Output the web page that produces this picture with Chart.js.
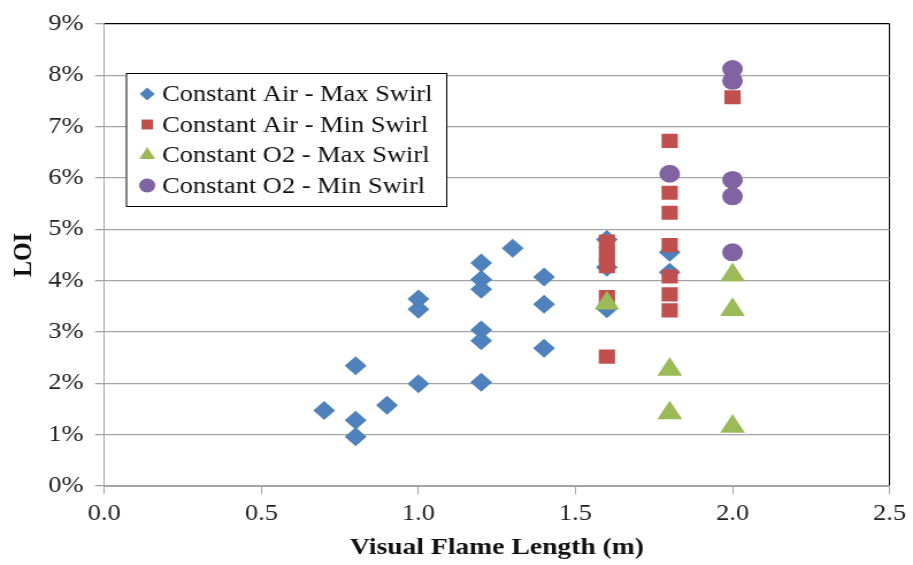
<!DOCTYPE html>
<html>
<head>
<meta charset="utf-8">
<script src="https://cdn.jsdelivr.net/npm/chart.js@4.4.1/dist/chart.umd.min.js"></script>
<style>
    html, body { margin: 0; padding: 0; background: #fff; }
    canvas { display: block; }
</style>
</head>
<body>
<!-- canvas is drawn narrower and stretched a little wider on screen -->
<canvas id="grafico-loi" width="794" height="565" style="width:913px;height:565px"></canvas>
<script>
const series = ['Constant Air - Max Swirl', 'Constant Air - Min Swirl', 'Constant O2 - Max Swirl', 'Constant O2 - Min Swirl'];
const cores = ['#4F81BD', '#C0504D', '#9BBB59', '#8064A2'];
const simbolos = ['rectRot', 'rect', 'triangle', 'circle'];

// comprimento visual da chama (m) e LOI (%)
const arMaxX = [0.7, 0.8, 0.8, 0.8, 0.9, 1.0, 1.0, 1.0, 1.2, 1.2, 1.2, 1.2, 1.2, 1.2, 1.3, 1.4, 1.4, 1.4, 1.6, 1.6, 1.6, 1.8, 1.8];
const arMaxY = [1.47, 2.34, 1.28, 0.96, 1.57, 3.64, 3.44, 1.99, 4.34, 4.02, 3.83, 3.04, 2.83, 2.02, 4.63, 4.07, 3.54, 2.68, 4.80, 4.26, 3.45, 4.55, 4.16];

const arMinX = [1.6, 1.6, 1.6, 1.6, 1.6, 1.8, 1.8, 1.8, 1.8, 1.8, 1.8, 1.8, 2.0];
const arMinY = [4.76, 4.52, 4.28, 3.68, 2.52, 6.72, 5.71, 5.32, 4.69, 4.08, 3.73, 3.42, 7.57];

const o2MaxX = [1.6, 1.8, 1.8, 2.0, 2.0, 2.0];
const o2MaxY = [3.56, 2.27, 1.42, 4.11, 3.43, 1.16];

const o2MinX = [1.8, 2.0, 2.0, 2.0, 2.0, 2.0];
const o2MinY = [6.08, 8.12, 7.89, 5.96, 5.64, 4.55];

const ticksX = [0, 0.5, 1.0, 1.5, 2.0, 2.5];
const ticksY = [0, 1, 2, 3, 4, 5, 6, 7, 8, 9];

const fonte = 'Liberation Serif, Times New Roman, serif';
const cinza = '#a3a3a3';

function pontos(xs, ys) {
    return xs.map((x, i) => ({ x, y: ys[i] }));
}

const raios = [9.5, 10, 12.5, 9];
const dados = [pontos(arMaxX, arMaxY), pontos(arMinX, arMinY), pontos(o2MaxX, o2MaxY), pontos(o2MinX, o2MinY)];

const datasets = series.map((nome, i) => ({
    label: nome,
    data: dados[i],
    pointStyle: simbolos[i],
    pointRadius: raios[i],
    pointHoverRadius: raios[i],
    backgroundColor: cores[i],
    borderColor: cores[i],
    borderWidth: 0,
    order: series.length - i
}));

// legenda dentro da área do gráfico, com moldura
const legendaInterna = {
    id: 'legendaInterna',
    afterDraw(chart) {
        const ctx = chart.ctx;
        const caixa = { x: 109.5, y: 73, w: 278.5, h: 133 };
        ctx.save();
        ctx.fillStyle = '#fff';
        ctx.fillRect(caixa.x, caixa.y, caixa.w, caixa.h);
        ctx.strokeStyle = '#000';
        ctx.lineWidth = 1;
        ctx.strokeRect(caixa.x + 0.5, caixa.y + 0.5, caixa.w, caixa.h);

        ctx.font = `23px ${fonte}`;
        ctx.textBaseline = 'middle';
        ctx.textAlign = 'left';
        const tamanhos = [6.5, 7, 8, 7];
        chart.data.datasets.forEach((ds, i) => {
            const y = 94 + i * 30.5;
            ctx.fillStyle = ds.backgroundColor;
            ctx.strokeStyle = ds.borderColor;
            Chart.helpers.drawPoint(ctx, { pointStyle: ds.pointStyle, radius: tamanhos[i], rotation: 0, borderWidth: 0 }, 128, y);
            ctx.fillStyle = '#111';
            ctx.fillText(ds.label, 141, y + 1);
        });
        ctx.restore();
    }
};

new Chart(document.getElementById('grafico-loi'), {
    type: 'scatter',
    data: { datasets },
    plugins: [legendaInterna],
    options: {
        responsive: false,
        animation: false,
        layout: { padding: { top: 19, right: 19.5, left: 0, bottom: 0 } },
        plugins: {
            legend: { display: false },
            tooltip: { enabled: false }
        },
        scales: {
            x: {
                type: 'linear',
                min: 0,
                max: 2.5,
                afterBuildTicks: (escala) => { escala.ticks = ticksX.map(v => ({ value: v })); },
                afterFit: (escala) => { escala.height = 79; },
                border: { display: true, color: cinza, width: 1 },
                grid: {
                    color: (c) => (c.tick && c.tick.value === 2.5 ? '#000' : 'rgba(0,0,0,0)'),
                    tickColor: cinza,
                    tickLength: 8,
                    lineWidth: 1
                },
                ticks: {
                    padding: 6,
                    color: '#222',
                    font: { family: fonte, size: 23 },
                    callback: (v) => Number(v).toFixed(1)
                },
                title: {
                    display: true,
                    text: 'Visual Flame Length (m)',
                    color: '#111',
                    padding: { top: 0, bottom: 3 },
                    font: { family: fonte, size: 24, weight: 'bold' }
                }
            },
            y: {
                min: 0,
                max: 9,
                afterBuildTicks: (escala) => { escala.ticks = ticksY.map(v => ({ value: v })); },
                afterFit: (escala) => { escala.width = 90.7; },
                border: { display: true, color: cinza, width: 1 },
                grid: {
                    color: (c) => (c.tick && c.tick.value === 9 ? '#000' : cinza),
                    tickColor: cinza,
                    tickLength: 8,
                    lineWidth: 1.3
                },
                ticks: {
                    padding: 10,
                    color: '#222',
                    font: { family: fonte, size: 23 },
                    callback: (v) => v + '%'
                },
                title: {
                    display: true,
                    text: 'LOI',
                    color: '#111',
                    padding: { top: 6.5, bottom: 0 },
                    font: { family: fonte, size: 24, weight: 'bold' }
                }
            }
        }
    }
});
</script>
</body>
</html>
